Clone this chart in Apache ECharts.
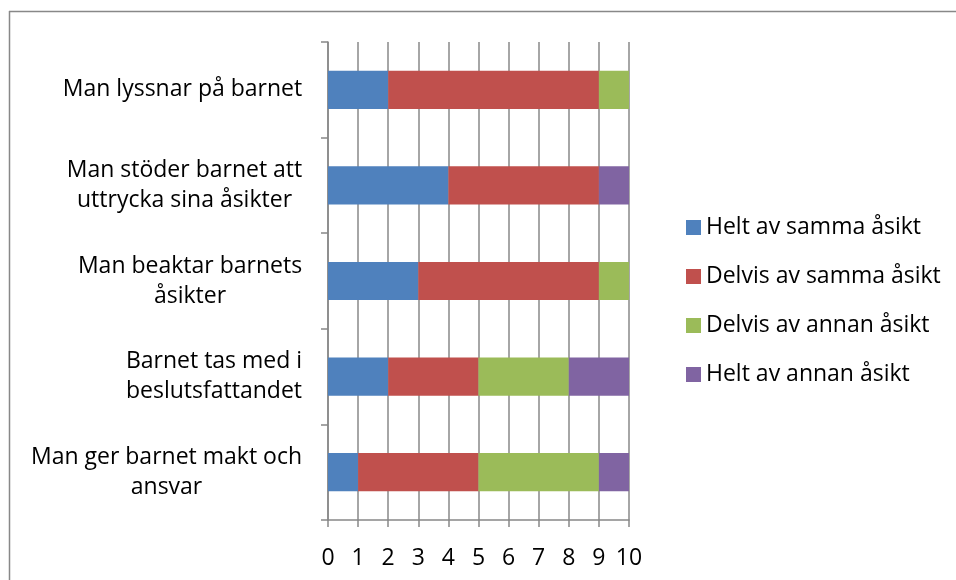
<!DOCTYPE html>
<html>
<head>
<meta charset="utf-8">
<script src="https://cdn.jsdelivr.net/npm/echarts@6/dist/echarts.min.js"></script>
<style>html,body{margin:0;padding:0;background:#fff}#c{width:956px;height:580px}</style>
</head>
<body>
<div id="c"></div>
<script>
var categories = [
  "Man lyssnar på barnet",
  "Man stöder barnet att\nuttrycka sina åsikter",
  "Man beaktar barnets\nåsikter",
  "Barnet tas med i\nbeslutsfattandet",
  "Man ger barnet makt och\nansvar"
];
var seriesNames = ["Helt av samma åsikt", "Delvis av samma åsikt", "Delvis av annan åsikt", "Helt av annan åsikt"];
var heltSamma = [2, 4, 3, 2, 1];
var delvisSamma = [7, 5, 6, 3, 4];
var delvisAnnan = [1, 0, 1, 3, 4];
var heltAnnan = [0, 1, 0, 2, 1];
var xTicks = [0, 1, 2, 3, 4, 5, 6, 7, 8, 9, 10];

var colors = ["#4F81BD", "#C0504D", "#9BBB59", "#8064A2"];
var values = [heltSamma, delvisSamma, delvisAnnan, heltAnnan];
var font = "Open Sans";
var fs = 23;
var gray = '#888888';

// measure label blocks so multi-line labels are centred within a right-aligned block
var ctx = document.createElement('canvas').getContext('2d');
ctx.font = fs + 'px "' + font + '"';
var rich = {};
categories.forEach(function (c, i) {
  var w = 0;
  c.split('\n').forEach(function (l) { w = Math.max(w, ctx.measureText(l).width); });
  rich['w' + i] = {width: Math.ceil(w) + 1, align: 'center', fontFamily: font, fontSize: fs, lineHeight: 30, color: '#000'};
});

var chart = echarts.init(document.getElementById('c'), null, {renderer: 'canvas'});
var series = seriesNames.map(function (n, i) {
  return {
    name: n, type: 'bar', stack: 'total', data: values[i],
    barCategoryGap: '60%',
    itemStyle: {color: colors[i]},
    emphasis: {disabled: true}
  };
});
chart.setOption({
  animation: false,
  color: colors,
  textStyle: {fontFamily: font},
  grid: {left: 328, right: 327, top: 42, bottom: 60},
  legend: {
    orient: 'vertical', left: 686, top: 216, padding: 0,
    itemWidth: 15, itemHeight: 15, itemGap: 26, icon: 'rect',
    textStyle: {fontFamily: font, fontSize: fs, color: '#000'},
    data: seriesNames
  },
  xAxis: {
    type: 'value', min: 0, max: 10, interval: 1,
    axisLine: {show: true, lineStyle: {color: gray, width: 1.5}},
    axisTick: {show: true, length: 7, lineStyle: {color: gray, width: 1.5}},
    splitLine: {show: true, lineStyle: {color: gray, width: 1.5}},
    axisLabel: {
      margin: 27, fontFamily: font, fontSize: fs, color: '#000',
      formatter: function (v) { return xTicks.indexOf(v) >= 0 ? String(v) : ''; }
    }
  },
  yAxis: {
    type: 'category', inverse: true, data: categories,
    axisLine: {show: true, lineStyle: {color: gray, width: 1.5}},
    axisTick: {show: true, length: 7, lineStyle: {color: gray, width: 1.5}},
    axisLabel: {
      margin: 25, align: 'right', fontFamily: font, fontSize: fs, color: '#000', lineHeight: 30,
      formatter: function (v, i) {
        return v.split('\n').map(function (l) { return '{w' + i + '|' + l + '}'; }).join('\n');
      },
      rich: rich
    }
  },
  series: series,
  graphic: [
    {type: 'line', shape: {x1: 9, y1: 11.5, x2: 956, y2: 11.5}, style: {stroke: gray, lineWidth: 1.5}, silent: true},
    {type: 'line', shape: {x1: 9.5, y1: 11, x2: 9.5, y2: 580}, style: {stroke: gray, lineWidth: 1.5}, silent: true}
  ]
});
</script>
</body>
</html>
